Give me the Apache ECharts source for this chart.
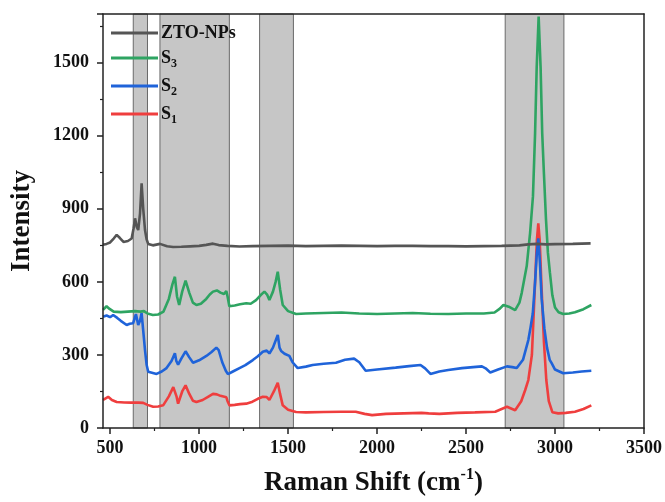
<!DOCTYPE html>
<html>
<head>
<meta charset="utf-8">
<script src="https://cdn.jsdelivr.net/npm/echarts@6/dist/echarts.min.js"></script>
<style>html,body{margin:0;padding:0;background:#fff}#c{width:665px;height:502px}</style>
</head>
<body>
<div id="c"></div>
<script>
// ---- data ----
const xMajorTicks = [500, 1000, 1500, 2000, 2500, 3000, 3500];
const xMinorTicks = [750, 1250, 1750, 2250, 2750, 3250];
const bands = [[630, 710], [780, 1170], [1340, 1530], [2720, 3050]];

const ztoNPs = [[460,752],[480,756],[500,762],[520,778],[537,793],[555,780],[575,764],[600,768],[621,778],[632,820],[640,861],[650,825],[658,813],[668,880],[677,1005],[686,900],[696,813],[705,775],[714,756],[740,750],[780,756],[820,746],[854,743],[900,744],[950,746],[1000,748],[1040,752],[1078,757],[1110,751],[1160,748],[1227,745],[1300,747],[1400,748],[1500,749],[1600,747],[1700,748],[1800,749],[1900,748],[2000,747],[2100,748],[2200,748],[2300,747],[2400,747],[2500,746],[2600,747],[2700,748],[2800,750],[2850,754],[2900,756],[2950,754],[3000,755],[3100,756],[3200,758]];

const s3 = [[460,485],[470,492],[480,500],[495,490],[520,478],[560,476],[600,478],[640,480],[670,478],[690,480],[710,470],[740,464],[770,466],[800,478],[830,530],[850,590],[864,621],[876,540],[888,505],[905,560],[924,605],[945,555],[965,515],[985,505],[1010,510],[1040,530],[1060,548],[1078,560],[1100,565],[1120,556],[1140,550],[1153,562],[1160,540],[1170,500],[1200,503],[1230,508],[1265,512],[1290,510],[1320,525],[1345,545],[1367,560],[1382,548],[1395,526],[1415,560],[1430,600],[1442,642],[1455,570],[1470,505],[1500,480],[1545,468],[1600,470],[1700,472],[1800,474],[1900,470],[2000,468],[2100,470],[2200,472],[2300,469],[2400,468],[2500,470],[2600,470],[2660,474],[2690,490],[2710,505],[2740,498],[2776,484],[2800,515],[2813,555],[2841,665],[2860,801],[2876,951],[2888,1211],[2897,1480],[2908,1690],[2919,1480],[2928,1211],[2938,1040],[2949,860],[2960,720],[2971,640],[2985,545],[3000,495],[3020,475],[3046,468],[3080,470],[3112,475],[3160,488],[3204,505]];

const s2 = [[460,457],[480,462],[500,455],[517,464],[540,452],[560,440],[593,423],[610,428],[629,430],[645,468],[658,423],[668,440],[677,472],[686,400],[696,320],[705,260],[714,231],[740,226],[761,222],[790,232],[817,246],[845,275],[864,307],[872,275],[882,260],[900,285],[924,315],[945,290],[966,268],[1000,278],[1041,296],[1070,312],[1097,330],[1110,320],[1130,270],[1150,235],[1162,221],[1190,232],[1227,246],[1260,258],[1302,279],[1330,295],[1358,313],[1380,318],[1395,306],[1415,330],[1442,382],[1452,330],[1461,316],[1480,305],[1507,296],[1525,270],[1554,246],[1600,252],[1638,259],[1700,264],[1769,268],[1820,280],[1871,285],[1900,270],[1936,235],[2000,240],[2104,248],[2180,254],[2244,259],[2270,245],[2300,222],[2350,232],[2400,238],[2477,246],[2540,250],[2589,253],[2610,245],[2636,228],[2680,240],[2730,253],[2760,250],[2785,246],[2820,280],[2850,361],[2860,402],[2875,470],[2888,600],[2898,720],[2906,779],[2915,680],[2925,530],[2940,410],[2955,330],[2970,280],[2981,266],[3000,240],[3046,225],[3100,228],[3150,232],[3204,235]];

const s1 = [[460,115],[475,122],[489,128],[510,115],[537,107],[580,105],[620,104],[660,104],[686,103],[710,95],[742,87],[770,88],[798,93],[830,130],[855,168],[864,175],[873,130],[882,100],[905,150],[924,175],[945,140],[965,112],[985,107],[1020,115],[1050,128],[1078,140],[1100,138],[1120,132],[1153,126],[1160,110],[1171,93],[1200,95],[1230,98],[1265,100],[1300,108],[1330,120],[1358,128],[1380,127],[1395,115],[1420,150],[1442,186],[1455,140],[1470,93],[1500,75],[1545,66],[1600,64],[1700,66],[1800,67],[1880,67],[1930,58],[1972,53],[2050,58],[2150,60],[2250,62],[2290,60],[2350,58],[2450,62],[2550,64],[2664,67],[2700,78],[2730,87],[2776,73],[2810,110],[2832,155],[2850,197],[2870,300],[2888,600],[2898,770],[2906,840],[2914,770],[2923,600],[2938,350],[2951,197],[2965,110],[2985,65],[3018,60],[3060,62],[3112,67],[3160,78],[3204,93]];

const X_MIN = 460, X_MAX = 3500, Y_MIN = 0, Y_MAX = 1700;

// ---- chart ----
const FONT = 'Liberation Serif';
const chart = echarts.init(document.getElementById('c'), null, {renderer: 'canvas'});
const lineSeries = (name, data, color) => ({
  name, type: 'line', data, showSymbol: false, symbol: 'none', z: 3,
  lineStyle: {color, width: 2.6}, itemStyle: {color}, animation: false
});

chart.setOption({
  animation: false,
  backgroundColor: '#fff',
  grid: {left: 103, right: 19, top: 14, bottom: 74},
  legend: {
    orient: 'vertical', left: 106, top: 19, itemGap: 7,
    itemWidth: 47, itemHeight: 3, icon: 'rect',
    data: ['ZTO-NPs', 'S3', 'S2', 'S1'],
    formatter: n => n === 'ZTO-NPs' ? '{b|ZTO-NPs}' : '{b|S}{s|' + n.slice(1) + '}',
    textStyle: {
      padding: [0, 0, 0, -2],
      rich: {
        b: {fontFamily: FONT, fontWeight: 'bold', fontSize: 18, color: '#111', lineHeight: 24, verticalAlign: 'middle'},
        s: {fontFamily: FONT, fontWeight: 'bold', fontSize: 12, color: '#111', lineHeight: 12, verticalAlign: 'bottom'}
      }
    }
  },
  xAxis: [
    {
      type: 'value', position: 'bottom', min: X_MIN, max: X_MAX, z: 10,
      name: '{t|Raman Shift (cm}{u|-1}{t|)}', nameLocation: 'middle', nameGap: 39,
      nameTextStyle: {
        rich: {
          t: {fontFamily: FONT, fontWeight: 'bold', fontSize: 27, color: '#111', verticalAlign: 'bottom', lineHeight: 30},
          u: {fontFamily: FONT, fontWeight: 'bold', fontSize: 16, color: '#111', verticalAlign: 'top', lineHeight: 30}
        }
      },
      axisLine: {show: true, lineStyle: {color: '#222', width: 1.5}},
      axisTick: {show: true, inside: false, length: 6, customValues: xMajorTicks, lineStyle: {color: '#222', width: 1.5}},
      axisLabel: {customValues: xMajorTicks, margin: 11, fontFamily: FONT, fontWeight: 'bold', fontSize: 18, color: '#111',
                  formatter: v => String(v)},
      splitLine: {show: false}
    },
    {
      type: 'value', position: 'bottom', min: X_MIN, max: X_MAX, z: 10,
      axisLine: {show: false},
      axisTick: {show: true, inside: false, length: 3, customValues: xMinorTicks, lineStyle: {color: '#222', width: 1.2}},
      axisLabel: {show: false},
      splitLine: {show: false}
    },
    {
      type: 'value', position: 'top', min: X_MIN, max: X_MAX, z: 10,
      axisLine: {show: true, lineStyle: {color: '#222', width: 1.5}},
      axisTick: {show: false}, axisLabel: {show: false}, splitLine: {show: false}
    }
  ],
  yAxis: [
    {
      type: 'value', position: 'left', min: Y_MIN, max: Y_MAX, interval: 300, z: 10,
      name: 'Intensity', nameLocation: 'middle', nameGap: 67, nameRotate: 90,
      nameTextStyle: {fontFamily: FONT, fontWeight: 'bold', fontSize: 27, color: '#111'},
      axisLine: {show: true, lineStyle: {color: '#222', width: 1.5}},
      axisTick: {show: true, inside: false, length: 6, lineStyle: {color: '#222', width: 1.5}},
      minorTick: {show: true, splitNumber: 2, length: 3, lineStyle: {color: '#222', width: 1.2}},
      axisLabel: {margin: 14, fontFamily: FONT, fontWeight: 'bold', fontSize: 18, color: '#111',
                  formatter: v => v > 1500 ? '' : String(v)},
      splitLine: {show: false}
    },
    {
      type: 'value', position: 'right', min: Y_MIN, max: Y_MAX, z: 10,
      axisLine: {show: true, lineStyle: {color: '#222', width: 1.5}},
      axisTick: {show: false}, axisLabel: {show: false}, splitLine: {show: false}
    }
  ],
  series: [
    {
      type: 'custom', name: 'bands', z: 1, silent: true,
      xAxisIndex: 0, yAxisIndex: 0,
      data: bands,
      encode: {x: [0, 1]},
      renderItem: (params, api) => {
        const a = api.coord([api.value(0), Y_MAX]);
        const b = api.coord([api.value(1), Y_MIN]);
        return {
          type: 'rect',
          shape: {x: a[0], y: a[1], width: b[0] - a[0], height: b[1] - a[1]},
          style: {fill: '#c6c6c6', stroke: '#6a6a6a', lineWidth: 1}
        };
      }
    },
    lineSeries('S1', s1, '#ef3e3e'),
    lineSeries('S2', s2, '#1f63d9'),
    lineSeries('S3', s3, '#2ea462'),
    lineSeries('ZTO-NPs', ztoNPs, '#555555')
  ]
});
</script>
</body>
</html>
